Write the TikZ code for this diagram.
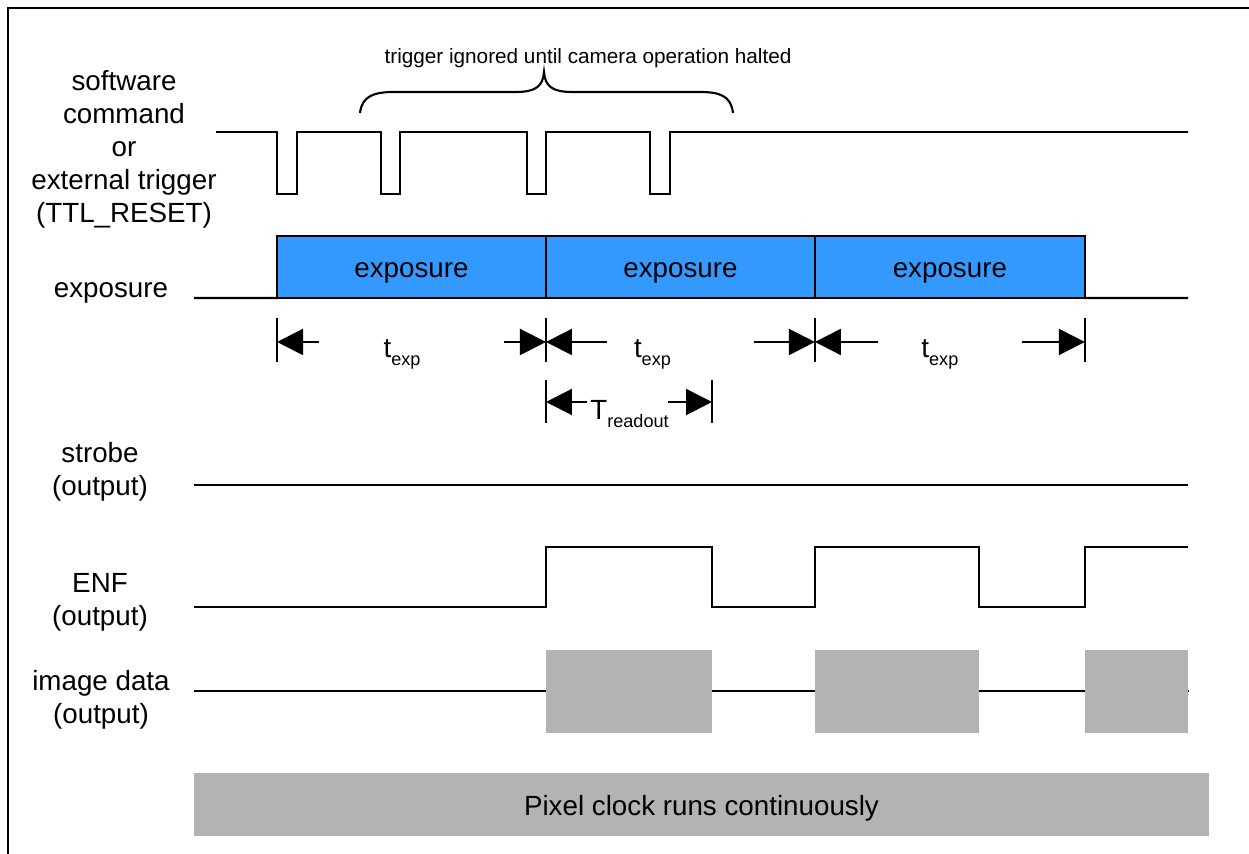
\documentclass[tikz,border=0pt]{standalone}
\usepackage{fontspec}
\setmainfont{Liberation Sans}
\usepackage{tikz}
\usetikzlibrary{arrows.meta,positioning}

\definecolor{expblue}{RGB}{51,153,255}
\definecolor{datagray}{RGB}{179,179,179}
\newcommand{\mainsize}{\fontsize{15.8}{18.8}\selectfont}
\newcommand{\notesize}{\fontsize{11.8}{14}\selectfont}
\newcommand{\lowidx}[1]{\raisebox{-4pt}{\fontsize{10.3}{12}\selectfont #1}}

\tikzset{
  sig/.style={line width=1.2pt},
  tick/.style={line width=1.2pt},
  dimarr/.style={line width=1.2pt,-{Triangle[length=0.52cm,width=0.52cm]}},
  lbl/.style={align=center,font=\mainsize,inner sep=0pt},
  midtext/.style={text height=0.44cm,text depth=0pt},
  expbox/.style={draw,line width=1.2pt,fill=expblue,minimum height=1.24cm,
    inner sep=0pt,outer sep=0pt,font=\mainsize,midtext},
  databox/.style={fill=datagray,minimum height=1.66cm,inner sep=0pt,outer sep=0pt}
}

\begin{document}
\begin{tikzpicture}[x=0.02cm,y=-0.02cm,node distance=0pt]
  \useasboundingbox (0,0) rectangle (1249,854);
  \draw[line width=1.2pt] (8,854) -- (8,8) -- (1249,8);

  % signal names
  \node[lbl] (trig) at (124,149) {software\\command\\or\\external trigger\\(TTL\_RESET)};
  \node[lbl] (explbl) at (111,293) {exposure};
  \node[lbl] (strobe) at (100,472) {strobe\\(output)};
  \node[lbl] (enf) at (100,602) {ENF\\(output)};
  \node[lbl] (imgdata) at (101,700) {image data\\(output)};

  % trigger
  \draw[sig] (216,132) -| (277,194) -| (297,132) -| (381,194) -| (400,132)
    -| (527,194) -| (546,132) -| (650,194) -| (670,132) -- (1188,132);
  \node[font=\notesize,inner sep=0pt] (ignnote) at (588,58)
    {trigger ignored until camera operation halted};
  \draw[line width=1.2pt] (360,113) .. controls (362,96) and (374,92) .. (394,92)
    -- (516,92) .. controls (536,92) and (543,86) .. (544,72)
    .. controls (545,86) and (552,92) .. (572,92)
    -- (700,92) .. controls (720,92) and (731,96) .. (733,113);

  % exposure
  \node[expbox,minimum width=5.38cm] (exp1) at (411.5,267) {exposure};
  \node[expbox,minimum width=5.38cm,right=of exp1] (exp2) {exposure};
  \node[expbox,minimum width=5.4cm,right=of exp2] (exp3) {exposure};
  \draw[sig] (194,298) -- (exp1.south west);
  \draw[sig] (exp3.south east) -- (1188,298);

  \foreach \i/\len/\tx in {1/0.84/-0.19,2/1.22/-0.56,3/1.26/-0.2}{
    \draw[tick] ([yshift=-0.4cm]exp\i.south west) -- ([yshift=-1.28cm]exp\i.south west);
    \draw[tick] ([yshift=-0.4cm]exp\i.south east) -- ([yshift=-1.28cm]exp\i.south east);
    \draw[dimarr] ([shift={(\len cm,-0.88cm)}]exp\i.south west) -- ([yshift=-0.88cm]exp\i.south west);
    \draw[dimarr] ([shift={(-\len cm,-0.88cm)}]exp\i.south east) -- ([yshift=-0.88cm]exp\i.south east);
    \node[font=\mainsize,anchor=base,inner sep=0pt] (texp\i)
      at ([shift={(\tx cm,-1.2cm)}]exp\i.south) {t\lowidx{exp}};
  }

  % readout
  \coordinate (rd0) at (546,402);
  \coordinate (rd1) at (712,402);
  \draw[tick] ([yshift=0.44cm]rd0) -- ([yshift=-0.42cm]rd0);
  \draw[tick] ([yshift=0.44cm]rd1) -- ([yshift=-0.42cm]rd1);
  \draw[dimarr] ([xshift=0.82cm]rd0) -- (rd0);
  \draw[dimarr] ([xshift=-0.88cm]rd1) -- (rd1);
  \node[font=\mainsize,anchor=base,inner sep=0pt] (trd) at (629.5,420) {T\lowidx{readout}};

  % strobe, ENF
  \draw[sig] (194,485) -- (1188,485);
  \draw[sig] (194,607) -| (546,547) -| (712,607) -| (815,547) -| (979,607)
    -| (1085,547) -- (1188,547);

  % image data
  \draw[sig] (194,691) -- (1189,691);
  \node[databox,minimum width=3.32cm] (img1) at (629,691.5) {};
  \node[databox,minimum width=3.28cm] (img2) at (897,691.5) {};
  \node[databox,minimum width=2.06cm] (img3) at (1136.5,691.5) {};

  \node[databox,minimum width=20.3cm,minimum height=1.26cm,font=\mainsize,midtext]
    (pclk) at (701.5,804.5) {Pixel clock runs continuously};
\end{tikzpicture}
\end{document}
